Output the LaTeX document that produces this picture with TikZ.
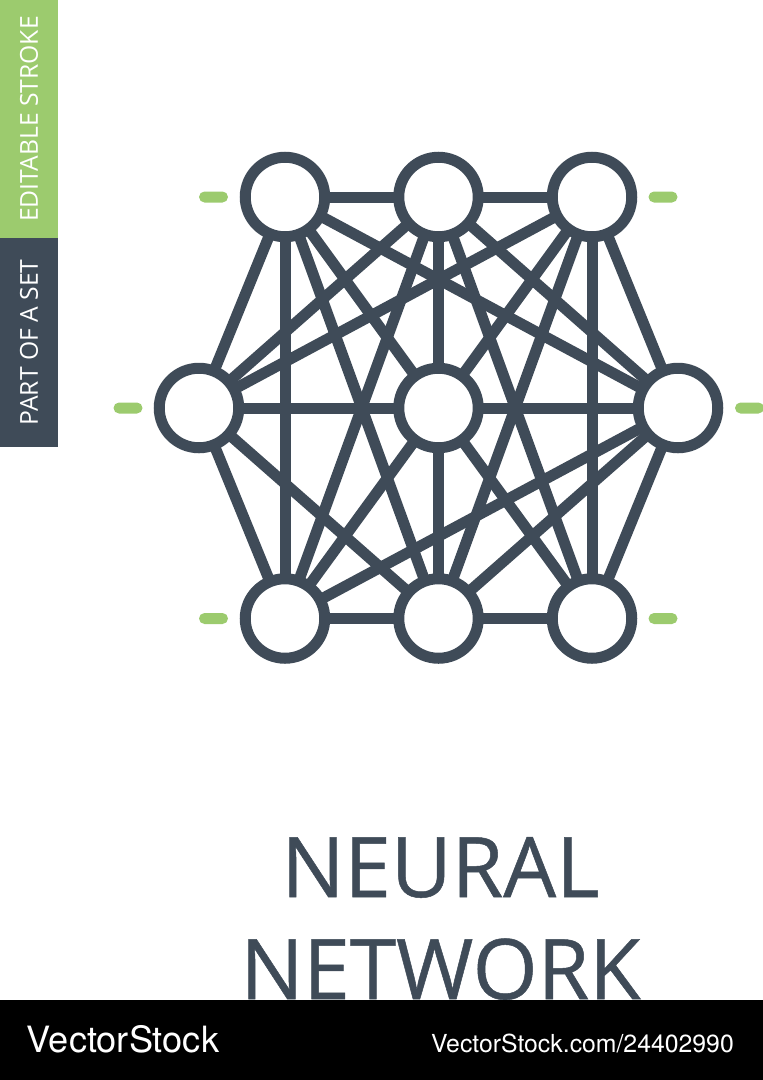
\documentclass[tikz,border=0pt]{standalone}
\usepackage{fontspec}
\setmainfont{Open Sans}
\newfontfamily\logofont{TeX Gyre Heros}
\usepackage{tikz}
\usetikzlibrary{positioning}
\definecolor{slate}{HTML}{3F4B58}
\definecolor{leaf}{HTML}{9CCB6E}

\tikzset{
	neuron/.style={circle,draw=slate,fill=white,line width=11pt,minimum size=79.5pt,inner sep=0pt,outer sep=0pt},
	wire/.style={draw=slate,line width=11pt},
	tick/.style={fill=leaf,rounded corners=5.5pt,minimum width=29pt,minimum height=11pt,inner sep=0pt},
	tab/.style={rotate=90,minimum width=#1,minimum height=58pt,inner sep=0pt,outer sep=0pt,text=white,font=\fontsize{24.7}{25}\selectfont},
	title/.style={text=slate,inner sep=0pt,font=\addfontfeature{FakeBold=0.6}\fontsize{83.5}{84}\selectfont},
}

\begin{document}
\begin{tikzpicture}[x=1pt,y=1pt,on grid]
		\useasboundingbox (0,0) rectangle (763,-1080);
		\node[tab=238pt,fill=leaf] (tab_edit) at (29,-119) {EDITABLE STROKE};
		\node[tab=209pt,fill=slate] (tab_set) at (29,-342.5) {PART OF A SET};
		\node[neuron] (n_tl) at (285,-197) {};
		\node[neuron] [right=153.5pt of n_tl] (n_tm) {};
		\node[neuron] [right=153.5pt of n_tm] (n_tr) {};
		\node[neuron] [below=211pt of n_tm] (n_c) {};
		\node[neuron] [left=239.5pt of n_c] (n_ml) {};
		\node[neuron] [right=239.5pt of n_c] (n_mr) {};
		\node[neuron] [below=210.5pt of n_c] (n_bm) {};
		\node[neuron] [left=153.5pt of n_bm] (n_bl) {};
		\node[neuron] [right=153.5pt of n_bm] (n_br) {};
		\path[wire]
			(n_tl) edge (n_tm)
			(n_tm) edge (n_tr)
			(n_bl) edge (n_bm)
			(n_bm) edge (n_br)
			(n_ml) edge (n_c)
			(n_c) edge (n_mr)
			(n_tl) edge (n_ml)
			(n_tl) edge (n_bl)
			(n_tl) edge (n_bm)
			(n_tl) edge (n_c)
			(n_tl) edge (n_mr)
			(n_tm) edge (n_ml)
			(n_tm) edge (n_bl)
			(n_tm) edge (n_c)
			(n_tm) edge (n_br)
			(n_tm) edge (n_mr)
			(n_tr) edge (n_ml)
			(n_tr) edge (n_c)
			(n_tr) edge (n_bm)
			(n_tr) edge (n_br)
			(n_tr) edge (n_mr)
			(n_ml) edge (n_bl)
			(n_ml) edge (n_bm)
			(n_mr) edge (n_bl)
			(n_mr) edge (n_bm)
			(n_mr) edge (n_br)
			(n_c) edge (n_bl)
			(n_c) edge (n_bm)
			(n_c) edge (n_br);
		\node[tick] [left=71.5pt of n_tl] (t_tl) {};
		\node[tick] [right=71pt of n_tr] (t_tr) {};
		\node[tick] [left=71pt of n_ml] (t_ml) {};
		\node[tick] [right=71.5pt of n_mr] (t_mr) {};
		\node[tick] [left=71.5pt of n_bl] (t_bl) {};
		\node[tick] [right=71pt of n_br] (t_br) {};
		\node[title,anchor=base] (title_a) at (440.5,-897) {NEURAL};
		\node[title,anchor=base] (title_b) at (440.5,-999) {NETWORK};
		\fill[black] (0,-1000) rectangle (763,-1080);
		\node[text=white,anchor=base west,inner sep=0pt,font=\logofont\fontsize{36.2}{36}\selectfont] (logo) at (26.5,-1052) {VectorStock};
		\node[text=white,anchor=base east,inner sep=0pt,font=\logofont\fontsize{24.8}{25}\selectfont] (link) at (734,-1052) {VectorStock.com/24402990};
	\end{tikzpicture}
\end{document}
